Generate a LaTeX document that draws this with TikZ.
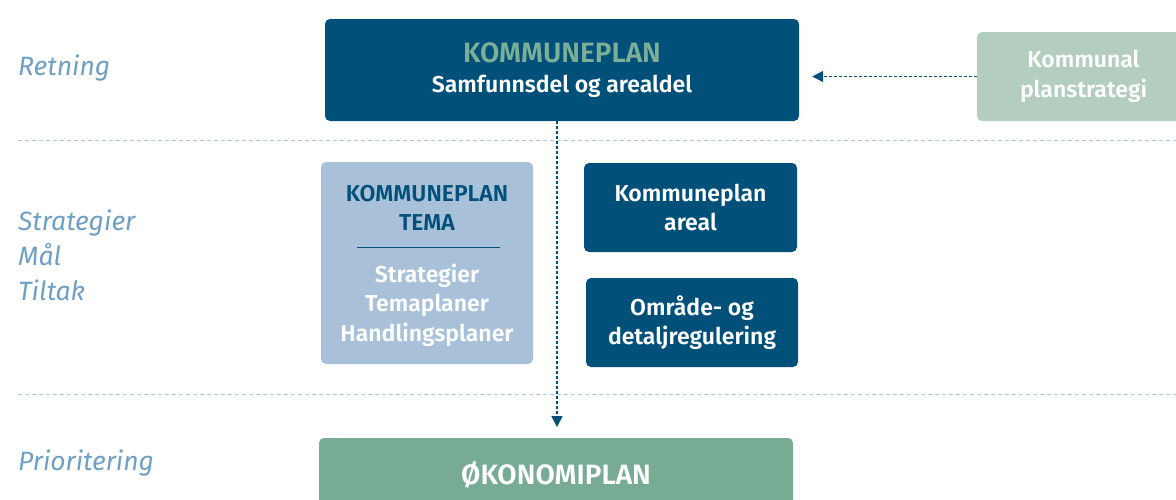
\documentclass[tikz,border=0pt]{standalone}
\usepackage{fontspec}
\setmainfont{Fira Sans}[BoldFont={Fira Sans SemiBold}]
\usetikzlibrary{arrows.meta}
\definecolor{dblue}{HTML}{00507A}
\definecolor{kgreen}{HTML}{7BAF97}
\definecolor{temab}{HTML}{A8C1D9}
\definecolor{lgreen}{HTML}{B3CDBF}
\definecolor{ogreen}{HTML}{78AB94}
\definecolor{lbl}{HTML}{6F9FC2}
\definecolor{sep}{HTML}{A9CCE3}
\tikzset{
  box/.style={rounded corners=5pt, inner sep=0pt, align=center, text=white, font=\fontsize{23}{29.5}\selectfont\bfseries},
  lbltext/.style={anchor=west, text=lbl, font=\fontsize{26.5}{35}\selectfont\itshape, align=left, inner sep=0pt},
  seprule/.style={draw=sep, line width=0.9pt, dash pattern=on 4pt off 3pt},
  conn/.style={draw=dblue, line width=1.6pt, dash pattern=on 3pt off 2pt, -{Triangle[width=11pt,length=11pt]}},
}
\begin{document}
\begin{tikzpicture}[x=1pt,y=-1pt]
\useasboundingbox (0,0) rectangle (1176,499);
% separators
\coordinate (s1a) at (18,140); \coordinate (s1b) at (1176,140);
\coordinate (s2a) at (18,394); \coordinate (s2b) at (1176,394);
\draw[seprule] (s1a) -- (s1b);
\draw[seprule] (s2a) -- (s2b);
% left labels
\node[lbltext] (retning) at (18,68) {Retning};
\node[lbltext] (strat) at (18,255) {Strategier\\Mål\\Tiltak};
\node[lbltext] (prior) at (18,463) {Prioritering};
% top box
\node[box, fill=dblue, minimum width=474pt, minimum height=102pt] (top) at (562,70)
  {\textcolor{kgreen}{\fontsize{28}{33}\selectfont KOMMUNEPLAN}\\[1pt]Samfunnsdel og arealdel};
% right box
\node[box, fill=lgreen, minimum width=213pt, minimum height=89pt, text=white!96!lgreen] (plstr) at (1083.5,76.5)
  {Kommunal\\planstrategi};
% tema box
\node[box, fill=temab, minimum width=212pt, minimum height=202pt] (tema) at (427,263) {};
\node[box, text=dblue] (tematitle) at (427,208) {KOMMUNEPLAN\\TEMA};
\coordinate (rulea) at (357,247); \coordinate (ruleb) at (500,247);
\draw[dblue, line width=1pt] (rulea) -- (ruleb);
\node[box] (temaitems) at (427,305) {Strategier\\Temaplaner\\Handlingsplaner};
% areal
\node[box, fill=dblue, minimum width=213pt, minimum height=89pt] (areal) at (690.5,207.5) {Kommuneplan\\areal};
\node[box, fill=dblue, minimum width=212pt, minimum height=89pt] (omr) at (692,322.5) {Område- og\\detaljregulering};
% okonomiplan
\node[box, fill=ogreen, minimum width=474pt, minimum height=74pt, font=\fontsize{28}{29}\selectfont\bfseries] (oko) at (556,475) {ØKONOMIPLAN};
% connectors
\coordinate (vtop) at (557,121);
\coordinate (vbot) at (557,438);
\draw[conn, shorten >=11pt] (vtop) -- (vbot);
\draw[conn, shorten >=13pt] (plstr.west) -- (plstr.west -| top.east);
\end{tikzpicture}
\end{document}
